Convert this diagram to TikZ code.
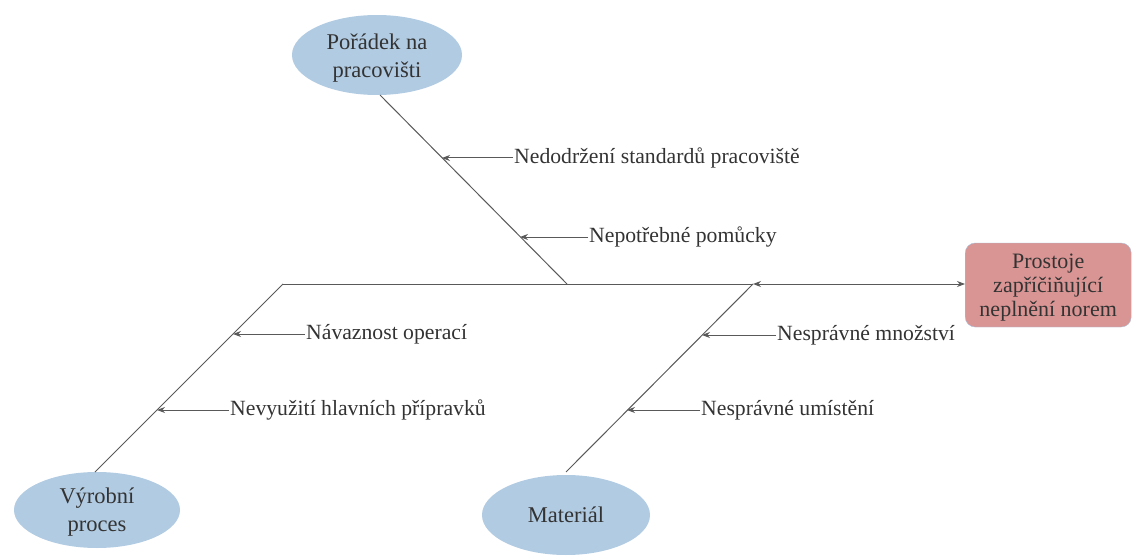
\documentclass[tikz,border=0pt]{standalone}
\usepackage{fontspec}
\setmainfont{Liberation Serif}
\usetikzlibrary{arrows.meta,shapes.geometric}
\definecolor{catblue}{HTML}{B1CBE2}
\definecolor{headred}{HTML}{D99594}
\definecolor{headedge}{HTML}{A9BFD6}
\definecolor{linegray}{HTML}{595959}
\definecolor{textgray}{HTML}{333333}
\tikzset{
  cat/.style={ellipse,fill=catblue,minimum width=170pt,minimum height=80pt,
    align=center,text=textgray,font=\fontsize{22.5pt}{28pt}\selectfont,inner sep=0pt},
  cattext/.style={text=textgray,font=\fontsize{22.5pt}{28pt}\selectfont,align=center},
  head/.style={rectangle,rounded corners=10pt,fill=headred,draw=headedge,
    minimum width=166pt,minimum height=84pt,inner sep=0pt},
  headtext/.style={text=textgray,font=\fontsize{22pt}{24pt}\selectfont,align=center},
  cause/.style={anchor=west,text=textgray,font=\fontsize{21.7pt}{25pt}\selectfont,inner sep=1pt},
  bone/.style={draw=linegray,line width=1pt},
  tip/.style={-{Stealth[length=8pt,width=6pt]}}
}
\begin{document}
\begin{tikzpicture}[x=1pt,y=-1pt]
  \useasboundingbox (0,0) rectangle (1132,556);
  % categories and effect
  \node[cat] (poradek) at (377,55) {};
  \node[cattext] (poradektxt) at (377,58) {Pořádek na\\pracovišti};
  \node[cat,minimum width=166pt,minimum height=76pt] (proces) at (97,510) {};
  \node[cattext] (procestxt) at (97,512) {Výrobní\\proces};
  \node[cat,minimum width=168pt] (material) at (566,515) {Materiál};
  \node[head,anchor=west] (effect) at (965,285) {};
  \node[headtext,yshift=-3pt] (effecttxt) at (effect.center) {Prostoje\\zapříčiňující\\neplnění norem};
  % spine and main bones
  \coordinate (s0) at (283,284);
  \coordinate (s1) at (567,284);
  \coordinate (s2) at (753,284);
  \coordinate (t0) at (380,95);
  \coordinate (b0) at (95,472);
  \coordinate (m0) at (566,472);
  \draw[bone] (s0) -- (s2);
  \draw[bone,{Stealth[length=8pt,width=6pt]}-{Stealth[length=8pt,width=6pt]}] (s2) -- (effect.west |- s2);
  \draw[bone] (t0) -- (s1);
  \draw[bone] (s0) -- (b0);
  \draw[bone] (s2) -- (m0);
  % causes
  \node[cause] (c1) at (513,158) {Nedodržení standardů pracoviště};
  \node[cause] (c2) at (588,237) {Nepotřebné pomůcky};
  \node[cause] (c3) at (305,334) {Návaznost operací};
  \node[cause] (c4) at (229,410) {Nevyužití hlavních přípravků};
  \node[cause] (c5) at (776,335) {Nesprávné množství};
  \node[cause] (c6) at (700,410) {Nesprávné umístění};
  \coordinate (p1) at (442,158);
  \coordinate (p2) at (520,237);
  \coordinate (p3) at (233,334);
  \coordinate (p4) at (157,410);
  \coordinate (p5) at (702,335);
  \coordinate (p6) at (627,410);
  \foreach \c/\p in {c1/p1,c2/p2,c3/p3,c4/p4,c5/p5,c6/p6}
    \draw[bone,tip] (\c.west) -- (\p);
\end{tikzpicture}
\end{document}
